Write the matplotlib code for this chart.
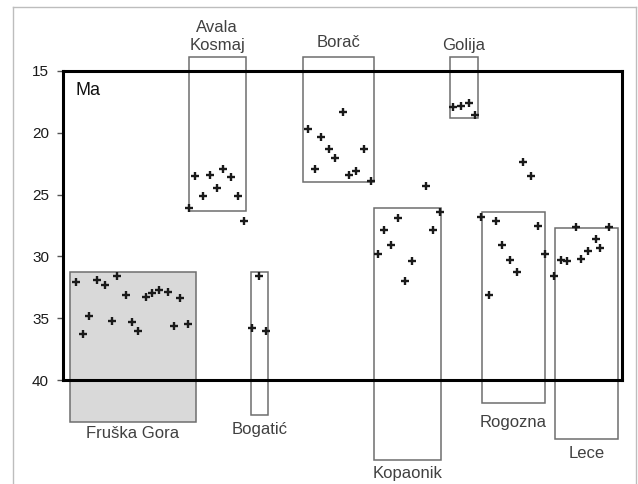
import matplotlib.pyplot as plt
from matplotlib.patches import Rectangle

plt.rcParams['font.family'] = ['Liberation Sans', 'DejaVu Sans']

# localities: horizontal span (arbitrary units 0-100) and age range (Ma)
sites = ["Fruška Gora", "Avala\nKosmaj", "Bogatić", "Borač", "Kopaonik", "Golija", "Rogozna", "Lece"]
box_x0 = [1.2, 22.5, 33.6, 42.9, 55.6, 69.2, 75.0, 88.0]
box_x1 = [23.8, 32.7, 36.7, 55.6, 67.6, 74.2, 86.2, 99.3]
age_top = [31.3, 13.9, 31.3, 13.9, 26.1, 13.9, 26.4, 27.7]
age_bot = [43.4, 26.3, 42.8, 24.0, 46.5, 18.8, 41.9, 44.8]
label_below = [True, False, True, False, True, False, True, True]
label_pad = [3, 3.5, 5, 5, 4, 3.5, 8, 5]

# individual dated samples (Ma)
fruska_x = [2.3, 6.0, 7.5, 9.7, 11.2, 14.8, 16.0, 17.2, 18.7, 21.0, 4.7, 8.7, 12.3, 13.5, 3.6, 19.8, 22.4]
fruska_y = [32.1, 31.9, 32.3, 31.6, 33.1, 33.3, 33.0, 32.7, 32.9, 33.4, 34.8, 35.2, 35.3, 36.0, 36.3, 35.6, 35.5]
avala_x = [23.6, 26.3, 28.7, 30.0, 27.5, 25.1, 31.3, 22.5, 32.4]
avala_y = [23.5, 23.4, 22.9, 23.6, 24.5, 25.1, 25.1, 26.1, 27.1]
borac_x = [50.1, 43.8, 46.2, 47.5, 48.7, 53.8, 45.1, 51.2, 52.5, 55.1]
borac_y = [18.3, 19.7, 20.3, 21.3, 22.0, 21.3, 22.9, 23.4, 23.1, 23.9]
golija_x = [69.8, 71.2, 72.7, 73.7]
golija_y = [17.9, 17.8, 17.6, 18.6]
bogatic_x = [35.1, 33.8, 36.4]
bogatic_y = [31.6, 35.8, 36.0]
kopaonik_x = [64.9, 67.4, 60.0, 57.5, 66.2, 58.7, 56.3, 62.4, 61.2]
kopaonik_y = [24.3, 26.4, 26.9, 27.9, 27.9, 29.1, 29.8, 30.4, 32.0]
rogozna_x = [82.3, 83.7, 74.8, 77.4, 84.9, 78.6, 86.2, 80.0, 81.2, 76.2]
rogozna_y = [22.4, 23.5, 26.8, 27.1, 27.5, 29.1, 29.8, 30.3, 31.3, 33.1]
lece_x = [91.7, 97.7, 95.4, 96.1, 94.0, 92.7, 90.1, 89.0, 87.8]
lece_y = [27.6, 27.6, 28.6, 29.3, 29.6, 30.2, 30.4, 30.3, 31.6]

yticks = [15, 20, 25, 30, 35, 40]

fig = plt.figure(figsize=(6.38, 4.84), dpi=100)
ax = fig.add_axes([63 / 638, 1 - 380 / 484, 559 / 638, 309 / 484])
ax.set_xlim(0, 100)
ax.set_ylim(40, 15)

# outer light border of the figure
fig.add_artist(plt.Line2D([13 / 638, 13 / 638], [0, 1 - 7 / 484], color='#bdbdbd', lw=1))
fig.add_artist(plt.Line2D([13 / 638, 636 / 638], [1 - 7 / 484, 1 - 7 / 484], color='#bdbdbd', lw=1))
fig.add_artist(plt.Line2D([636 / 638, 636 / 638], [0, 1 - 7 / 484], color='#bdbdbd', lw=1))

for i, name in enumerate(sites):
    face = '#d9d9d9' if i == 0 else 'none'
    r = Rectangle((box_x0[i], age_top[i]), box_x1[i] - box_x0[i], age_bot[i] - age_top[i],
                  facecolor=face, edgecolor='#6e6e6e', lw=1.1, clip_on=False, zorder=1)
    ax.add_patch(r)
    xc = (box_x0[i] + box_x1[i]) / 2
    if label_below[i]:
        ax.annotate(name, (xc, age_bot[i]), xytext=(0, -label_pad[i]), textcoords='offset points',
                    ha='center', va='top', fontsize=12, color='#404040', annotation_clip=False)
    else:
        ax.annotate(name, (xc, age_top[i]), xytext=(0, label_pad[i]), textcoords='offset points',
                    ha='center', va='bottom', fontsize=12, color='#404040',
                    linespacing=1.2, annotation_clip=False)

groups = [(fruska_x, fruska_y), (avala_x, avala_y), (borac_x, borac_y), (golija_x, golija_y),
          (bogatic_x, bogatic_y), (kopaonik_x, kopaonik_y), (rogozna_x, rogozna_y), (lece_x, lece_y)]
for gx, gy in groups:
    ax.plot(gx, gy, '+', color='#1a1a1a', ms=6, mew=1.7, clip_on=False, zorder=3)

ax.text(2.2, 16.6, "Ma", fontsize=13, va='center', ha='left', color='#111111')

ax.set_yticks(yticks)
ax.set_xticks([])
ax.tick_params(axis='y', length=4, width=1, color='#555555', labelsize=11, labelcolor='#1a1a1a', pad=6)
for s in ax.spines.values():
    s.set_linewidth(2.2)
    s.set_color('black')
    s.set_zorder(4)
ax.patch.set_alpha(0)

fig.savefig("out.png", dpi=100)
